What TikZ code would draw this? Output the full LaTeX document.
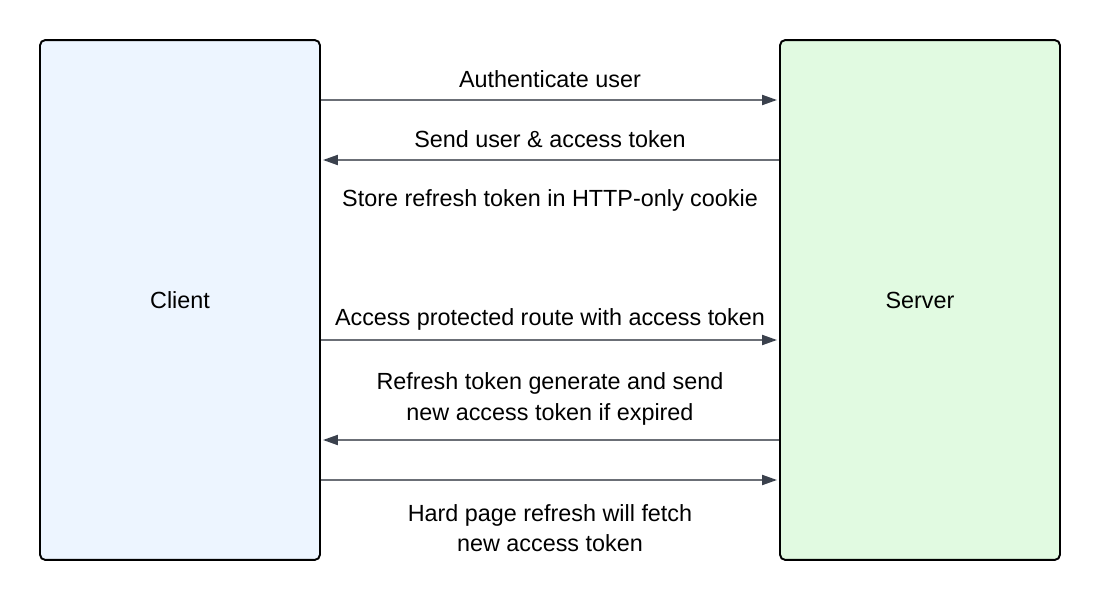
\documentclass[tikz,border=0pt]{standalone}
\usepackage{fontspec}
\setmainfont{Liberation Sans}
\usetikzlibrary{arrows.meta}

\definecolor{clientfill}{HTML}{EDF5FF}
\definecolor{serverfill}{HTML}{E1FAE1}
\definecolor{msgline}{HTML}{6B6F76}
\definecolor{msghead}{HTML}{3A414D}

\begin{document}
\begin{tikzpicture}[x=0.02cm, y=-0.02cm, font=\fontsize{13.3}{17.3}\selectfont,
    party/.style = {draw, line width=1.1pt, rounded corners=3pt, minimum width=5.6cm, minimum height=10.4cm},
    msg/.style = {draw=msgline, line width=0.85pt, shorten >=1.2pt, -{Triangle[length=8.5pt, width=5.8pt, color=msghead]}},
    lbl/.style = {align=center}]
    \useasboundingbox (0,0) rectangle (1100,601);

    \node[party, fill=clientfill] (client) at (180,300) {Client};
    \node[party, fill=serverfill] (server) at (920,300) {Server};

    \draw[msg] (client.east |- 0,100) -- (server.west |- 0,100);
    \draw[msg] (server.west |- 0,160) -- (client.east |- 0,160);
    \draw[msg] (client.east |- 0,340) -- (server.west |- 0,340);
    \draw[msg] (server.west |- 0,440) -- (client.east |- 0,440);
    \draw[msg] (client.east |- 0,480) -- (server.west |- 0,480);

    \node[lbl] (authenticate) at (550,79) {Authenticate user};
    \node[lbl] (senduser) at (550,139) {Send user \& access token};
    \node[lbl] (storecookie) at (550,200) {Store refresh token in HTTP-only cookie};
    \node[lbl] (protected) at (550,319) {Access protected route with access token};
    \node[lbl] (refresh) at (550,399) {Refresh token generate and send\\new access token if expired};
    \node[lbl] (hardpage) at (550,528) {Hard page refresh will fetch\\new access token};
\end{tikzpicture}
\end{document}
